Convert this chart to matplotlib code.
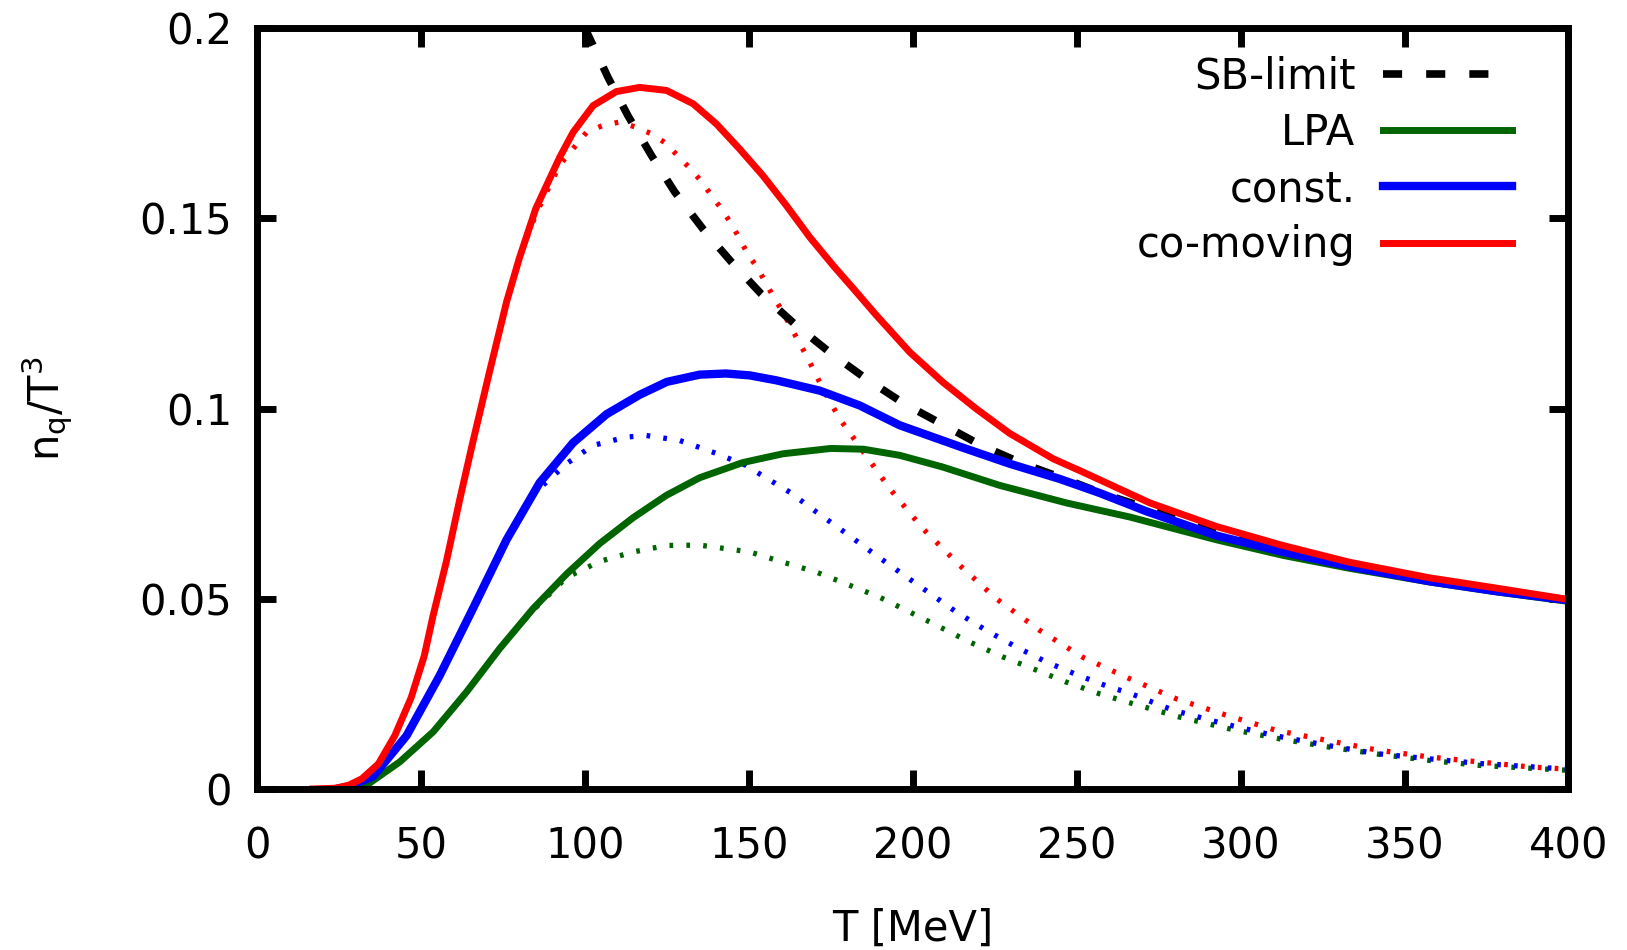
import matplotlib
matplotlib.use("Agg")
import matplotlib.pyplot as plt

# values
T_sb = [100, 107, 113.1, 120.3, 127.4, 136, 144.7, 153.8, 164.5, 175.2, 185.8, 197.5,
        208.7, 220.9, 233.6, 246.4, 259, 272.3, 285, 300, 330, 360, 400]
n_sb = [0.200, 0.1871, 0.1770, 0.1665, 0.1569, 0.1472, 0.1385, 0.1301, 0.1218, 0.1144,
        0.1078, 0.1012, 0.0960, 0.0903, 0.0855, 0.0815, 0.0773, 0.0736, 0.0703, 0.0662,
        0.0598, 0.0548, 0.0496]

# LPA
T_lpa = [30, 33.4, 43.5, 53.7, 63.9, 74, 84.2, 94.4, 104.5, 114.7, 124.9, 135, 148.2,
         160.4, 175, 185, 196, 209.2, 226.5, 246.8, 266.1, 292.6, 312.9, 333.2, 357.6,
         378, 400]
n_lpa = [0, 0.0010, 0.0071, 0.0150, 0.0255, 0.0369, 0.0474, 0.0565, 0.0645, 0.0713,
         0.0772, 0.0818, 0.0858, 0.0881, 0.0895, 0.0893, 0.0877, 0.0846, 0.0798, 0.0752,
         0.0715, 0.0655, 0.0614, 0.0580, 0.0544, 0.0518, 0.0493]
T_lpa_d = [16, 24, 30, 33.4, 43.5, 53.7, 63.9, 74, 84.2, 94.4, 104.5, 114.7, 124.9, 135,
           150.3, 160.4, 170.6, 179.7, 189.9, 199.1, 208.2, 217.4, 227.5, 236.7, 246.8,
           257, 267.2, 281.4, 296.6, 311.8, 327.1, 342.4, 357.6, 372.9, 400]
n_lpa_d = [0, 0, 0, 0.0010, 0.0071, 0.0150, 0.0255, 0.0369, 0.0470, 0.0556, 0.0598,
           0.0623, 0.0640, 0.0641, 0.0623, 0.0596, 0.0570, 0.0539, 0.0504, 0.0465,
           0.0426, 0.0386, 0.0347, 0.0316, 0.0281, 0.0250, 0.0224, 0.0189, 0.0158,
           0.0132, 0.0110, 0.0091, 0.0075, 0.0062, 0.0049]

# const.
T_const = [24, 28, 35.4, 45.6, 55.7, 65.9, 76.1, 86.2, 96.4, 106.6, 116.7, 125, 135, 143,
           150.3, 158.4, 171.6, 183.8, 196, 214.3, 229.5, 244.8, 257, 271.2, 292.6,
           312.9, 333.2, 357.6, 378, 400]
n_const = [0, 0.0007, 0.0033, 0.0140, 0.0298, 0.0475, 0.0655, 0.0805, 0.0910, 0.0985,
           0.1036, 0.1070, 0.1089, 0.1092, 0.1087, 0.1074, 0.1047, 0.1008, 0.0956,
           0.0900, 0.0855, 0.0815, 0.0778, 0.0730, 0.0666, 0.0623, 0.0585, 0.0546,
           0.0520, 0.0496]
T_const_d = [16, 24, 28, 35.4, 45.6, 55.7, 65.9, 76.1, 83, 94.4, 102.5, 112.7, 118.8,
             128.9, 139.1, 149.3, 153.3, 162.5, 170.6, 179.2, 187.4, 196, 204.6, 213.3,
             222.4, 231.6, 240.7, 250.4, 260, 266.1, 279.4, 294.6, 309.9, 326.1, 341.4,
             356.6, 372.9, 400]
n_const_d = [0, 0, 0.0007, 0.0033, 0.0140, 0.0298, 0.0475, 0.0655, 0.0765, 0.0855,
             0.0903, 0.0925, 0.0929, 0.0916, 0.0885, 0.0850, 0.0828, 0.0780, 0.0728,
             0.0675, 0.0623, 0.0570, 0.0518, 0.0465, 0.0417, 0.0373, 0.0334, 0.0299,
             0.0268, 0.0252, 0.0207, 0.0172, 0.0141, 0.0115, 0.0093, 0.0080, 0.0067,
             0.0052]

# co-moving
T_com = [17, 24, 28, 32, 37, 42, 47, 51, 53.7, 57.8, 61.8, 65.9, 71, 76.1, 80, 85, 92.3,
         96.4, 102.5, 109.6, 116.7, 124.9, 133, 140.1, 147.2, 154.3, 161.4, 168.6, 175.7,
         182.8, 188.9, 199.1, 209.2, 219.4, 229.5, 242.8, 251.9, 272.3, 292.6, 312.9,
         333.2, 357.6, 378, 400]
n_com = [0, 0.0002, 0.0010, 0.0027, 0.0066, 0.0140, 0.0240, 0.0350, 0.0456, 0.0600,
         0.0760, 0.0915, 0.1100, 0.1280, 0.1395, 0.1525, 0.1660, 0.1726, 0.1796, 0.1833,
         0.1844, 0.1836, 0.1801, 0.1748, 0.1682, 0.1612, 0.1534, 0.1450, 0.1376, 0.1306,
         0.1245, 0.1148, 0.1069, 0.0999, 0.0935, 0.0868, 0.0833, 0.0752, 0.0690, 0.0640,
         0.0596, 0.0555, 0.0528, 0.0498]
T_com_d = [16, 24, 28, 32, 37, 42, 47, 51, 53.7, 57.8, 61.8, 65.9, 71, 76.1, 80, 85, 92.3,
           100.5, 105.5, 110.6, 115.7, 120.3, 124.9, 128.4, 132, 135.5, 138.6, 141.6,
           144.7, 147.2, 149.7, 152.8, 155.3, 157.9, 160.4, 164, 167.5, 172.6, 177.7,
           183.8, 193, 203.1, 214.3, 225.5, 238.7, 251.9, 266.1, 280.4, 295.6, 310.9,
           326.1, 341.9, 357.6, 372.9, 388.1, 400]
n_com_d = [0, 0.0002, 0.0010, 0.0027, 0.0066, 0.0140, 0.0240, 0.0350, 0.0456, 0.0600,
           0.0760, 0.0915, 0.1100, 0.1280, 0.1395, 0.1510, 0.1640, 0.1726, 0.1744,
           0.1753, 0.1739, 0.1722, 0.1696, 0.1663, 0.1632, 0.1597, 0.1560, 0.1525,
           0.1485, 0.1446, 0.1406, 0.1367, 0.1328, 0.1288, 0.1253, 0.1195, 0.1140,
           0.1052, 0.0973, 0.0900, 0.0789, 0.0684, 0.0588, 0.0500, 0.0417, 0.0346,
           0.0290, 0.0237, 0.0194, 0.0154, 0.0128, 0.0102, 0.0084, 0.0071, 0.0058,
           0.0052]

green = "#006400"
fs = 30

fig = plt.figure(figsize=(16.27, 9.5), dpi=100)
ax = fig.add_axes([0.158, 0.1695, 0.806, 0.801])

# gnuplot-like short dots
dot = (0, (0.7, 2.5))
ax.plot(T_lpa_d, n_lpa_d, color=green, lw=3.8, ls=dot)
ax.plot(T_const_d, n_const_d, color="blue", lw=3.8, ls=dot)
ax.plot(T_com_d, n_com_d, color="red", lw=3.8, ls=dot)

ax.plot(T_sb, n_sb, color="black", lw=5.5, ls=(0, (2.5, 3.15)), label="SB-limit")
ax.plot(T_lpa, n_lpa, color=green, lw=5, label="LPA")
ax.plot(T_const, n_const, color="blue", lw=6, label="const.")
ax.plot(T_com, n_com, color="red", lw=5, label="co-moving")

ax.set_xlim(0, 400)
ax.set_ylim(0, 0.2)
ax.set_xticks(range(0, 401, 50))
ax.set_yticks([0, 0.05, 0.1, 0.15, 0.2])
ax.set_yticklabels(["0", "0.05", "0.1", "0.15", "0.2"])
for s in ax.spines.values():
    s.set_linewidth(5)
ax.tick_params(direction="in", length=14, width=5, top=True, right=True,
               labelsize=fs)
ax.tick_params(axis="x", pad=26)
ax.tick_params(axis="y", pad=18)

ax.set_xlabel("T [MeV]", fontsize=fs, labelpad=29)
ax.set_ylabel(r"n$_\mathregular{q}$/T$^\mathregular{3}$", fontsize=fs, labelpad=46)

ax.legend(loc="upper right", bbox_to_anchor=(0.9695, 0.9855), borderaxespad=0,
          frameon=False, fontsize=fs, markerfirst=False, handlelength=3.1,
          handletextpad=0.65, labelspacing=0.34)

fig.savefig("out.png", dpi=100)
